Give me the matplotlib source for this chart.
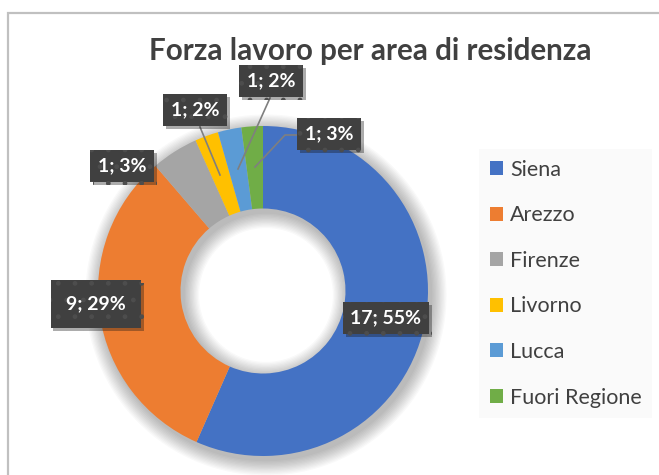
import matplotlib.pyplot as plt
from matplotlib.patches import Wedge, Rectangle
import matplotlib.patheffects as pe

# -------- DATA --------
areas = ['Siena', 'Arezzo', 'Firenze', 'Livorno', 'Lucca', 'Fuori Regione']
counts = [17, 9, 1, 1, 1, 1]
percents = [55, 29, 3, 2, 2, 3]
# slice shares as they appear in the chart (%)
shares = [56.6, 32.1, 4.6, 2.3, 2.3, 2.1]
colors = ['#4472C4', '#ED7D31', '#A5A5A5', '#FFC000', '#5B9BD5', '#70AD47']
title = 'Forza lavoro per area di residenza'
# -------- DATA. --------

W, H = 659, 475
fig = plt.figure(figsize=(W / 100, H / 100), dpi=100)
ax = fig.add_axes([0, 0, 1, 1])


def py(y):
    # pixel row (from top) -> data y
    return H - y


cx, cy, R = 263, py(291), 165

# ---- soft shadow of the ring
for k in range(1, 13):
    ax.add_patch(Wedge((cx + 3, cy - 4), R + k * 1.3, 0, 360, width=R / 2 + 2 * k * 1.3,
                       facecolor='black', alpha=0.022, linewidth=0, zorder=1))

wedges, _ = ax.pie(shares, colors=colors, startangle=90, counterclock=False,
                   center=(cx, cy), radius=R,
                   wedgeprops=dict(width=R / 2, linewidth=0))
for w in wedges:
    w.set_zorder(2)

ax.set_xlim(0, W)
ax.set_ylim(0, H)
ax.set_aspect('equal')
ax.axis('off')

# ---- chart border
fig.patches.append(Rectangle((8 / W, -0.1), 1.2, (H - 13) / H + 0.1, transform=fig.transFigure,
                             facecolor='none', edgecolor='#c0c0c0', linewidth=1.6))

# ---- title
ax.text(370, py(51), title, ha='center', va='center', fontsize=21.3,
        fontweight='bold', family='Lato', color='#404040')

# ---- data labels
label_pos = [(386, 318), (96, 304), (122, 166), (195, 110), (271, 81), (329, 134)]
label_pad = [0.4, 0.8, 0.4, 0.4, 0.4, 0.4]
leaders = [None, None, None,
           [(200, 127), (220, 175)],
           [(270, 98), (238, 169)],
           [(297, 135), (285, 135), (255, 167)]]

for i in range(len(areas)):
    if leaders[i] is not None:
        xs = [p[0] for p in leaders[i]]
        ys = [py(p[1]) for p in leaders[i]]
        ax.plot(xs, ys, color='#7f7f7f', linewidth=1.2, zorder=3)
    txt = ax.text(label_pos[i][0], py(label_pos[i][1]), f'{counts[i]}; {percents[i]}%',
                  ha='center', va='center', fontsize=14, fontweight='bold',
                  family='Lato', color='white', zorder=5,
                  bbox=dict(boxstyle=f'square,pad={label_pad[i]}', facecolor='#404040',
                            edgecolor='#4d4d4d', hatch='.', linewidth=0))
    txt.get_bbox_patch().set_path_effects([pe.SimplePatchShadow(offset=(2, -2), alpha=0.35),
                                           pe.Normal()])

# ---- legend
leg = ax.legend(wedges, areas, loc='upper left', bbox_to_anchor=(468 / W, 1 - 138 / H),
                frameon=True, handlelength=0.62, handleheight=0.62,
                handletextpad=0.33, labelspacing=1.19, borderpad=0.5,
                prop={'family': 'Lato', 'size': 15.5})
for t in leg.get_texts():
    t.set_color('#404040')
frame = leg.get_frame()
frame.set_facecolor('#f9f9f9')
frame.set_edgecolor('none')
frame.set_boxstyle('square', pad=0)

plt.savefig('out.png', dpi=100)
